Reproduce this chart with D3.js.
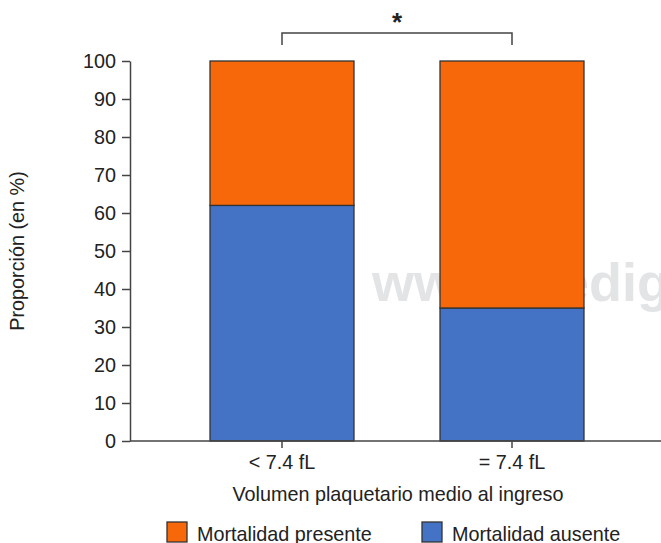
<!DOCTYPE html>
<html>
<head>
<meta charset="utf-8">
<script src="https://cdn.jsdelivr.net/npm/d3@7"></script>
<style>
  body { margin: 0; background: #fff; }
  text { font-family: "Liberation Sans", Arial, sans-serif; fill: #222; }
</style>
</head>
<body>
<div id="chart"></div>
<script>
// data
const categories = ["< 7.4 fL", "= 7.4 fL"];
const ausente = [62, 35];
const presente = [38, 65];
const seriesNames = ["Mortalidad presente", "Mortalidad ausente"];
const yTicks = [0, 10, 20, 30, 40, 50, 60, 70, 80, 90, 100];

const ORANGE = "#F7680A";
const BLUE = "#4472C4";
const STROKE = "#333";
const FS = 19.8;

const W = 661, H = 543;
const margin = { top: 61, right: 0, bottom: 102, left: 130 };

const svg = d3.select("#chart").append("svg")
    .attr("width", W)
    .attr("height", H);

// watermark behind the bars
svg.append("text")
    .attr("x", 372)
    .attr("y", 301)
    .attr("font-size", 54)
    .attr("font-weight", "bold")
    .style("fill", "#e3e4e6")
    .text("www.medigraphic.org");

const y = d3.scaleLinear()
    .domain([0, 100])
    .range([H - margin.bottom, margin.top]);

const x = d3.scaleBand()
    .domain(categories)
    .range([167, 627])
    .paddingInner(0.374)
    .paddingOuter(0.187);

const rows = categories.map((c, i) => ({ cat: c, ausente: ausente[i], presente: presente[i] }));
const stack = d3.stack().keys(["ausente", "presente"])(rows);
const color = { ausente: BLUE, presente: ORANGE };

// bars
svg.append("g")
    .selectAll("g")
    .data(stack)
    .join("g")
    .attr("fill", d => color[d.key])
    .selectAll("rect")
    .data(d => d)
    .join("rect")
    .attr("x", d => x(d.data.cat))
    .attr("y", d => y(d[1]))
    .attr("width", x.bandwidth())
    .attr("height", d => y(d[0]) - y(d[1]))
    .attr("stroke", STROKE)
    .attr("stroke-width", 1.3);

// y axis
const yAxis = svg.append("g")
    .attr("transform", `translate(${margin.left},0)`)
    .call(d3.axisLeft(y).tickValues(yTicks).tickSize(8).tickPadding(6).tickSizeOuter(0));
yAxis.selectAll("text").attr("font-size", FS);

// x axis
const xAxis = svg.append("g")
    .attr("transform", `translate(0,${y(0)})`)
    .call(d3.axisBottom(x).tickSize(7).tickPadding(7).tickSizeOuter(0));
xAxis.select(".domain").attr("d", `M${margin.left},0H${W}`);
xAxis.selectAll("text").attr("font-size", FS);

[yAxis, xAxis].forEach(a => {
    a.select(".domain").attr("stroke", "#444").attr("stroke-width", 1.5);
    a.selectAll(".tick line").attr("stroke", "#444").attr("stroke-width", 1.5);
});

// axis titles
svg.append("text")
    .attr("transform", "translate(24,251) rotate(-90)")
    .attr("text-anchor", "middle")
    .attr("font-size", FS)
    .text("Proporción (en %)");

svg.append("text")
    .attr("x", 398)
    .attr("y", 501)
    .attr("text-anchor", "middle")
    .attr("font-size", FS)
    .text("Volumen plaquetario medio al ingreso");

// significance bracket
const x1 = x(categories[0]) + x.bandwidth() / 2;
const x2 = x(categories[1]) + x.bandwidth() / 2;
svg.append("path")
    .attr("d", `M${x1},45V33H${x2}V45`)
    .attr("fill", "none")
    .attr("stroke", "#444")
    .attr("stroke-width", 1.5);
svg.append("text")
    .attr("x", (x1 + x2) / 2)
    .attr("y", 31)
    .attr("text-anchor", "middle")
    .attr("font-size", 26)
    .attr("font-weight", "bold")
    .text("*");

// legend
const legendX = [167, 422];
const legendColors = [ORANGE, BLUE];
const legend = svg.append("g")
    .selectAll("g")
    .data(seriesNames)
    .join("g")
    .attr("transform", (d, i) => `translate(${legendX[i]},522)`);
legend.append("rect")
    .attr("width", 20)
    .attr("height", 20)
    .attr("fill", (d, i) => legendColors[i])
    .attr("stroke", STROKE)
    .attr("stroke-width", 1.3);
legend.append("text")
    .attr("x", 30)
    .attr("y", 19)
    .attr("font-size", FS)
    .text(d => d);
</script>
</body>
</html>
